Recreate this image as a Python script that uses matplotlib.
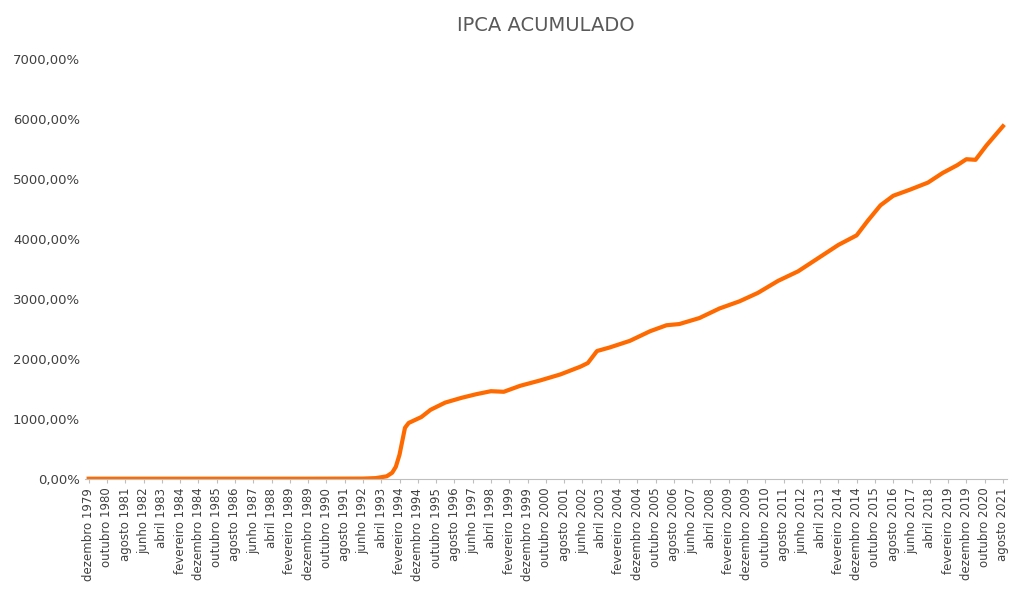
import matplotlib
matplotlib.use("Agg")
import matplotlib.pyplot as plt
from matplotlib.ticker import FuncFormatter

meses = ["janeiro","fevereiro","março","abril","maio","junho","julho","agosto","setembro","outubro","novembro","dezembro"]
# month index: 0 = dezembro 1979
month_idx = [0, 60, 120, 150, 157, 163, 166, 168, 170, 172, 173, 175, 182, 187, 195, 204, 212, 220, 227, 236, 247, 258, 269, 273,
             278, 285, 296, 307, 316, 323, 334, 345, 356, 366, 377, 388, 399, 410, 420, 426, 433, 440, 449, 459,
             467, 475, 480, 485, 491, 500]
ipca = [0, 0, 0, 2, 10, 40, 100, 200, 400, 700, 850, 930, 1030, 1150, 1270, 1350, 1410, 1460, 1450, 1550, 1640, 1740, 1870, 1930,
        2130, 2190, 2300, 2460, 2560, 2580, 2680, 2840, 2960, 3100, 3300, 3460, 3680, 3900, 4060, 4300, 4560, 4720, 4820, 4940,
        5100, 5230, 5330, 5320, 5560, 5880]

tick_pos = list(range(0, 501, 10))
tick_labels = []
for p in tick_pos:
    m = (11 + p) % 12
    y = 1979 + (11 + p) // 12
    tick_labels.append(f"{meses[m]} {y}")

fig, ax = plt.subplots(figsize=(10.24, 5.91), dpi=100)
fig.subplots_adjust(left=0.083, right=0.983, top=0.9, bottom=0.19)
ax.plot(month_idx, ipca, color="#FF6A00", lw=3)
ax.set_xlim(-2, 502)
ax.set_ylim(0, 7000)
ax.set_yticks(range(0, 7001, 1000))
ax.yaxis.set_major_formatter(FuncFormatter(lambda v, p: f"{int(v)},00%"))
ax.set_xticks(tick_pos)
ax.set_xticklabels(tick_labels, rotation=90, fontsize=8.5, color="#404040")
ax.tick_params(axis="y", labelsize=9.5, colors="#404040", length=0)
ax.tick_params(axis="x", length=3, color="#bfbfbf")
for s in ["top", "right", "left"]:
    ax.spines[s].set_visible(False)
ax.spines["bottom"].set_color("#bfbfbf")
ax.set_title("IPCA ACUMULADO", fontsize=14, color="#595959", pad=20)
fig.savefig("out.png")
